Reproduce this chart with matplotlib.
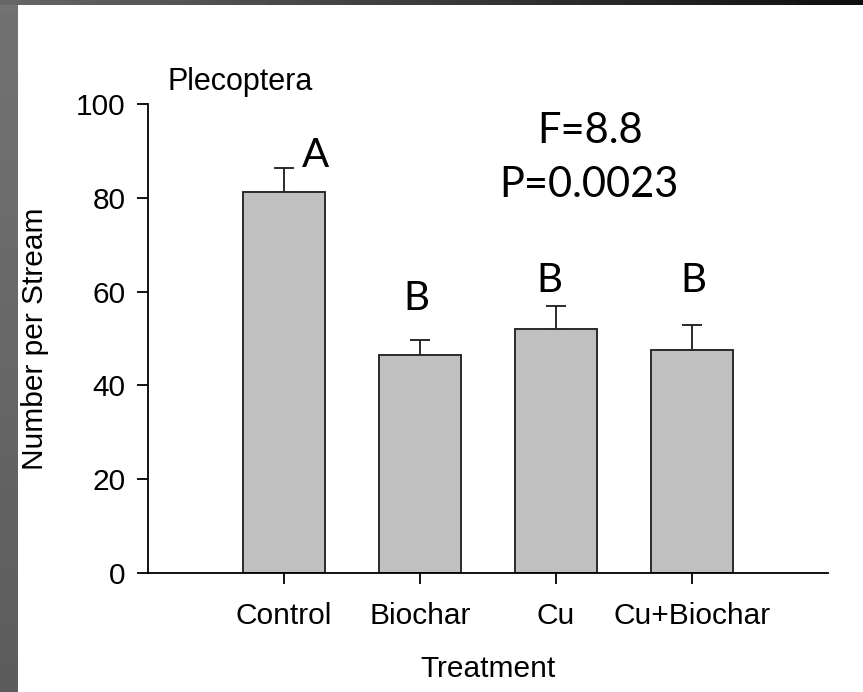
import numpy as np
import matplotlib
matplotlib.use("Agg")
import matplotlib.pyplot as plt

categories = ["Control", "Biochar", "Cu", "Cu+Biochar"]
means = [81.3, 46.5, 52.1, 47.6]
errors = [5.2, 3.2, 4.8, 5.3]
letters = ["A", "B", "B", "B"]
letter_x = [0.235, 0.976, 1.949, 3.01]
letter_y = [86.7, 56.0, 59.9, 59.9]
yticks = [0, 20, 40, 60, 80, 100]

W, H = 863, 692
fig = plt.figure(figsize=(W / 100, H / 100), dpi=100)
fig.patch.set_facecolor("white")

# frame borders (slide background)
bg = fig.add_axes([0, 0, 1, 1], zorder=-10)
bg.set_axis_off()
left_grad = np.linspace(0.45, 0.36, 64).reshape(-1, 1)
bg.imshow(left_grad, cmap="gray", vmin=0, vmax=1, extent=[0, 17, H, 0], aspect="auto")
top_grad = np.linspace(0.40, 0.06, 64).reshape(1, -1)
bg.imshow(top_grad, cmap="gray", vmin=0, vmax=1, extent=[0, W, 5, 0], aspect="auto")
bg.set_xlim(0, W)
bg.set_ylim(H, 0)

ax_l, ax_r, ax_t, ax_b = 148, 828, 104.3, 572.7
ax = fig.add_axes([ax_l / W, (H - ax_b) / H, (ax_r - ax_l) / W, (ax_b - ax_t) / H])
ax.set_facecolor("none")

x = np.arange(len(categories))
ax.bar(x, means, width=0.6, color="#c0c0c0", edgecolor="#2a2a2a", linewidth=1.4, zorder=2)
ax.errorbar(x, means, yerr=[np.zeros(len(errors)), errors], fmt="none",
            ecolor="#1a1a1a", elinewidth=1.3, capsize=7.5, capthick=1.3, zorder=1)

ax.set_xlim(-1, 4)
ax.set_ylim(0, 100)
ax.set_yticks(yticks)
ax.set_xticks(x)
ax.set_xticklabels(categories)
for s in ["top", "right"]:
    ax.spines[s].set_visible(False)
for s in ["left", "bottom"]:
    ax.spines[s].set_linewidth(1.3)
ax.tick_params(direction="out", length=8, width=1.3, labelsize=21.5)
ax.tick_params(axis="x", pad=13)
ax.tick_params(axis="y", pad=8)
for lab in ax.get_xticklabels() + ax.get_yticklabels():
    lab.set_fontfamily("Liberation Sans")

ax.set_ylabel("Number per Stream", fontsize=21.5, fontfamily="Liberation Sans")
ax.set_xlabel("Treatment", fontsize=21.5, fontfamily="Liberation Sans")
ax.yaxis.set_label_coords(-0.145, 0.5)
ax.xaxis.set_label_coords(0.5, -0.175)
ax.xaxis.label.set_va("top")

ax.text(-0.86, 103.05, "Plecoptera", fontsize=22, fontfamily="Liberation Sans",
        ha="left", va="baseline", clip_on=False)

for lx, ly, lt in zip(letter_x, letter_y, letters):
    ax.text(lx, ly, lt, fontsize=29, fontfamily="Lato", ha="center", va="baseline")

ax.text(2.25, 91.7, "F=8.8", fontsize=30, fontfamily="Lato", ha="center", va="baseline")
ax.text(2.24, 80.2, "P=0.0023", fontsize=30, fontfamily="Lato", ha="center", va="baseline")

fig.savefig("out.png", dpi=100, facecolor=fig.get_facecolor())
